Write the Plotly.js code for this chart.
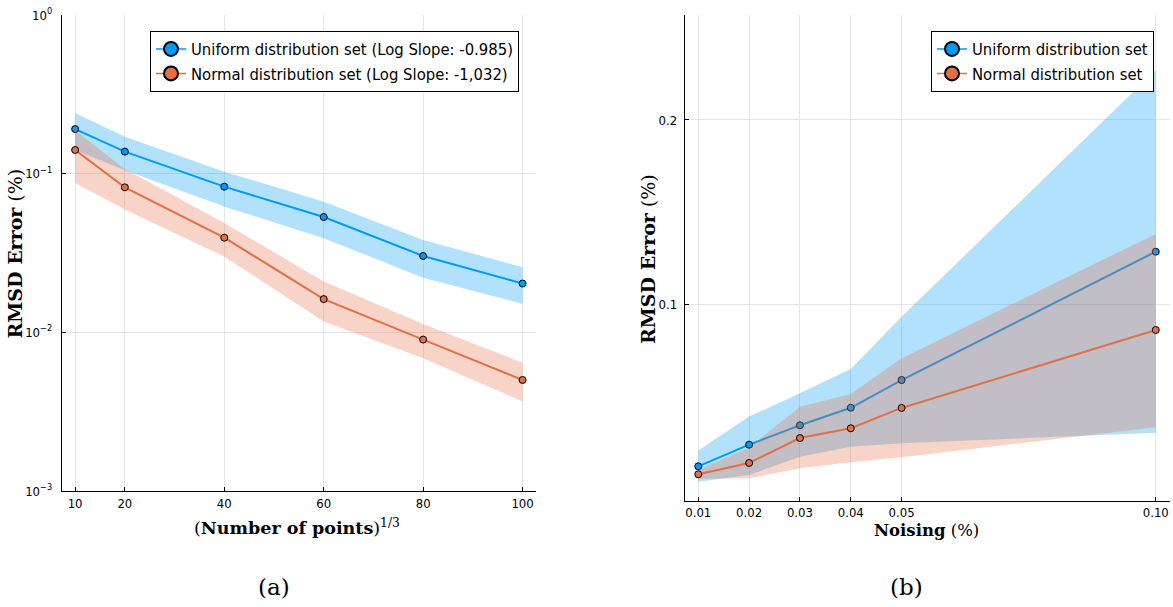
<!DOCTYPE html>
<html>
<head>
<meta charset="utf-8">
<script src="https://cdn.plot.ly/plotly-3.0.1.min.js"></script>
<style>html,body{margin:0;padding:0;background:#fff;}#chart{width:1173px;height:607px;}</style>
</head>
<body>
<div id="chart"></div>
<script>
// ---- Panel (a): error vs (number of points)^(1/3), log y ----
const pointsA = [10, 20, 40, 60, 80, 100];
const uniformMeanA  = [0.191, 0.1377, 0.0828, 0.0533, 0.0303, 0.0203];
const uniformUpperA = [0.241, 0.171, 0.103, 0.0666, 0.0382, 0.0257];
const uniformLowerA = [0.141, 0.105, 0.062, 0.0392, 0.0221, 0.0151];
const normalMeanA   = [0.141, 0.082, 0.0395, 0.0162, 0.0090, 0.00501];
const normalUpperA  = [0.188, 0.107, 0.0489, 0.0209, 0.0113, 0.00644];
const normalLowerA  = [0.0874, 0.0594, 0.030, 0.0117, 0.00687, 0.00366];
const legendA = ["Uniform distribution set (Log Slope: -0.985)", "Normal distribution set (Log Slope: -1,032)"];
const yTicksA = [0.001, 0.01, 0.1, 1];
const yTickTextA = ["10<sup>\u22123</sup>", "10<sup>\u22122</sup>", "10<sup>\u22121</sup>", "10<sup>0</sup>"];

// ---- Panel (b): error vs noising, linear y ----
const noiseB = [0.01, 0.02, 0.03, 0.04, 0.05, 0.10];
const noiseTickTextB = ["0.01", "0.02", "0.03", "0.04", "0.05", "0.10"];
const uniformMeanB  = [0.0125, 0.0242, 0.0347, 0.0442, 0.0592, 0.1287];
const uniformUpperB = [0.0210, 0.0394, 0.0520, 0.0652, 0.0935, 0.2271];
const uniformLowerB = [0.0042, 0.0078, 0.0177, 0.0231, 0.0250, 0.0307];
const normalMeanB   = [0.0082, 0.0143, 0.0278, 0.0331, 0.0441, 0.0863];
const normalUpperB  = [0.0107, 0.0226, 0.0448, 0.0517, 0.0710, 0.1383];
const normalLowerB  = [0.0057, 0.0060, 0.0114, 0.0147, 0.0174, 0.0336];
const legendB = ["Uniform distribution set", "Normal distribution set"];
const yTicksB = [0.1, 0.2];
const yTickTextB = ["0.1", "0.2"];

const BLUE = "#009AFA", ORANGE = "#E26F46";
const BLUE_FILL = "rgba(0,154,250,0.3)", ORANGE_FILL = "rgba(227,111,70,0.3)";
const SANS = "DejaVu Sans Condensed, DejaVu Sans, sans-serif";
const SERIF = "DejaVu Serif, serif";

function band(x, upper, lower, color, xa, ya) {
  return {
    x: x.concat(x.slice().reverse()),
    y: upper.concat(lower.slice().reverse()),
    xaxis: xa, yaxis: ya, mode: "lines", fill: "toself", fillcolor: color,
    line: {width: 0, color: color}, showlegend: false, hoverinfo: "skip"
  };
}
function series(x, y, color, name, xa, ya) {
  return {
    x: x, y: y, xaxis: xa, yaxis: ya, name: name, showlegend: false,
    mode: "lines+markers",
    line: {color: color, width: 2},
    marker: {size: 7, color: color, line: {color: "#000", width: 1}}
  };
}
// legend key (larger symbol, thin line, as in the reference legend)
function key(color, name, xa, ya, leg) {
  return {
    x: [null], y: [null], xaxis: xa, yaxis: ya, name: name, legend: leg,
    mode: "lines+markers", showlegend: true, hoverinfo: "skip",
    line: {color: color, width: 1.5},
    marker: {size: 14, color: color, line: {color: "#000", width: 2}}
  };
}

const data = [
  band(pointsA, uniformUpperA, uniformLowerA, BLUE_FILL, "x", "y"),
  series(pointsA, uniformMeanA, BLUE, legendA[0], "x", "y"),
  band(pointsA, normalUpperA, normalLowerA, ORANGE_FILL, "x", "y"),
  series(pointsA, normalMeanA, ORANGE, legendA[1], "x", "y"),
  band(noiseB, uniformUpperB, uniformLowerB, BLUE_FILL, "x2", "y2"),
  series(noiseB, uniformMeanB, BLUE, legendB[0], "x2", "y2"),
  band(noiseB, normalUpperB, normalLowerB, ORANGE_FILL, "x2", "y2"),
  series(noiseB, normalMeanB, ORANGE, legendB[1], "x2", "y2"),
  key(BLUE, legendA[0], "x", "y", "legend"),
  key(ORANGE, legendA[1], "x", "y", "legend"),
  key(BLUE, legendB[0], "x2", "y2", "legend2"),
  key(ORANGE, legendB[1], "x2", "y2", "legend2")
];

const W = 1173, H = 607;
const axisCommon = {
  showline: true, linecolor: "#000", linewidth: 1, mirror: false,
  zeroline: false, showgrid: true, gridcolor: "#e6e6e6", gridwidth: 1,
  ticks: "inside", ticklen: 4, tickcolor: "#000", tickwidth: 1,
  tickfont: {family: SANS, size: 13, color: "#000"}, fixedrange: true
};
const legendCommon = {
  bgcolor: "#fff", bordercolor: "#000", borderwidth: 1,
  font: {family: SANS, size: 16.5, color: "#000"},
  itemsizing: "trace", yanchor: "top"
};

const layout = {
  width: W, height: H,
  margin: {l: 0, r: 0, t: 0, b: 0},
  paper_bgcolor: "#fff", plot_bgcolor: "#fff",
  xaxis: Object.assign({}, axisCommon, {
    domain: [61.7 / W, 536 / W], range: [7.3, 102.7],
    tickvals: pointsA, anchor: "y"
  }),
  yaxis: Object.assign({}, axisCommon, {
    domain: [116 / H, 592 / H], type: "log", range: [-3, 0],
    tickvals: yTicksA, ticktext: yTickTextA, anchor: "x", ticklabelstandoff: 6
  }),
  xaxis2: Object.assign({}, axisCommon, {
    domain: [684.7 / W, 1170 / W], range: [0.00733, 0.1028],
    tickvals: noiseB, ticktext: noiseTickTextB, anchor: "y2"
  }),
  yaxis2: Object.assign({}, axisCommon, {
    domain: [(H - 500.7) / H, (H - 14.7) / H], range: [-0.00612, 0.2570],
    tickvals: yTicksB, ticktext: yTickTextB, anchor: "x2", ticklabelstandoff: 4
  }),
  legend: Object.assign({}, legendCommon, {x: 150 / W, xanchor: "left", y: (H - 30.7) / H}),
  legend2: Object.assign({}, legendCommon, {x: 1154 / W, xanchor: "right", y: (H - 30.7) / H}),
  annotations: [
    {text: "<b>RMSD Error</b> (%)", x: 15 / W, y: (H - 253.5) / H, xref: "paper", yref: "paper",
     textangle: -90, showarrow: false, xanchor: "center", yanchor: "middle",
     font: {family: SERIF, size: 19, color: "#000"}},
    {text: "<b>RMSD Error</b> (%)", x: 648 / W, y: (H - 259) / H, xref: "paper", yref: "paper",
     textangle: -90, showarrow: false, xanchor: "center", yanchor: "middle",
     font: {family: SERIF, size: 19, color: "#000"}},
    {text: "(<b>Number of points</b>)<sup>1/3</sup>", x: 297 / W, y: (H - 527) / H, xref: "paper", yref: "paper",
     showarrow: false, xanchor: "center", yanchor: "middle",
     font: {family: SERIF, size: 17.5, color: "#000"}},
    {text: "<b>Noising</b> (%)", x: 926 / W, y: (H - 530) / H, xref: "paper", yref: "paper",
     showarrow: false, xanchor: "center", yanchor: "middle",
     font: {family: SERIF, size: 16.5, color: "#000"}},
    {text: "(a)", x: 274 / W, y: (H - 587) / H, xref: "paper", yref: "paper",
     showarrow: false, xanchor: "center", yanchor: "middle",
     font: {family: SERIF, size: 23, color: "#000"}},
    {text: "(b)", x: 907 / W, y: (H - 587) / H, xref: "paper", yref: "paper",
     showarrow: false, xanchor: "center", yanchor: "middle",
     font: {family: SERIF, size: 23, color: "#000"}}
  ]
};

Plotly.newPlot("chart", data, layout, {displayModeBar: false, staticPlot: true});
</script>
</body>
</html>
